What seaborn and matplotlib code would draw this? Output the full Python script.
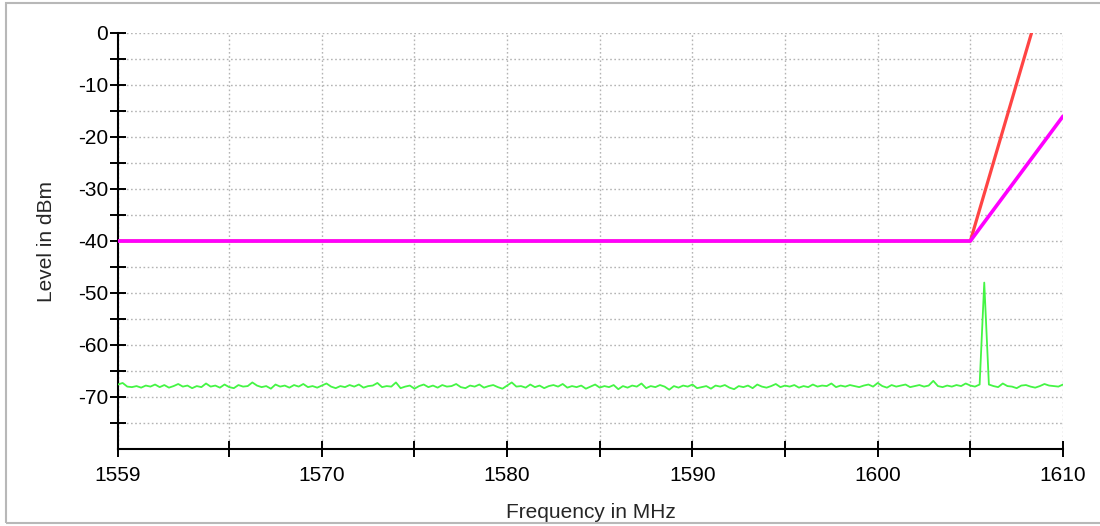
import numpy as np
import pandas as pd
import matplotlib
matplotlib.use("Agg")
import matplotlib.pyplot as plt
import seaborn as sns
from matplotlib.patches import Rectangle

# ---- data ----
limit_freq = [1559, 1605, 1610]
limit_level = [-40, -40, -16]
steep_freq = [1559, 1605, 1608.3]
steep_level = [-40, -40, 0]

noise_start = 1559.0
noise_step = 0.25
noise_level = [
    -67.6, -67.3, -68.0, -68.1, -67.9, -68.2, -67.8, -68.0, -67.6, -68.1,
    -67.7, -68.2, -67.9, -67.5, -68.0, -67.8, -68.3, -67.9, -68.1, -67.4,
    -68.0, -67.8, -68.2, -67.6, -68.1, -68.3, -67.7, -68.0, -67.9, -67.2,
    -67.8, -68.1, -67.9, -68.4, -67.6, -68.0, -67.8, -68.2, -67.7, -68.0,
    -67.5, -68.1, -67.9, -68.2, -67.8, -67.4, -68.0, -68.3, -67.9, -68.1,
    -67.7, -68.0, -67.6, -68.2, -67.9, -67.8, -67.3, -68.1, -67.9, -68.0,
    -67.2, -68.3, -68.0, -67.8, -68.4, -67.9, -67.6, -68.1, -67.8, -68.2,
    -67.7, -68.0, -67.9, -67.5, -68.1, -68.3, -67.8, -68.0, -67.6, -68.2,
    -67.9, -67.7, -68.1, -68.4, -67.8, -67.2, -68.0, -67.9, -68.2, -67.6,
    -68.1, -67.8, -68.3, -67.9, -67.7, -68.0, -67.5, -68.2, -67.9, -68.1,
    -67.8, -68.4, -68.0, -67.6, -68.2, -67.9, -68.1, -67.7, -68.5, -67.9,
    -68.2, -67.8, -68.0, -67.4, -68.3, -67.9, -68.1, -67.7, -68.0, -68.6,
    -67.9, -68.2, -67.8, -68.0, -67.6, -68.3, -68.1, -67.9, -68.4, -67.8,
    -68.0, -67.7, -68.2, -68.5, -67.9, -68.1, -67.8, -68.3, -67.6, -68.0,
    -68.2, -67.9, -67.5, -68.1, -67.8, -68.0, -67.7, -68.2, -67.9, -68.1,
    -67.6, -68.0, -67.8, -67.9, -67.4, -68.1, -67.8, -68.0, -67.7, -67.9,
    -68.1, -67.8, -67.6, -68.0, -67.3, -67.9, -68.2, -67.7, -68.0, -67.8,
    -67.6, -68.1, -67.9, -67.7, -68.0, -67.8, -66.9, -67.9, -68.1, -67.8,
    -68.0, -67.7, -67.9, -67.4, -67.8, -68.0, -67.6, -48.0, -67.6, -67.9,
    -68.1, -67.4, -67.9, -68.0, -68.3, -67.8, -67.7, -68.0, -68.2, -67.9,
    -67.5, -67.8, -67.9, -68.0, -67.6,
]
noise_freq = [noise_start + i * noise_step for i in range(len(noise_level))]

x_ticks = [1559, 1565, 1570, 1575, 1580, 1585, 1590, 1595, 1600, 1605, 1610]
x_labels = ["1559", "", "1570", "", "1580", "", "1590", "", "1600", "", "1610"]
y_ticks = [0, -5, -10, -15, -20, -25, -30, -35, -40, -45, -50, -55, -60, -65, -70, -75]
y_labels = ["0", "", "-10", "", "-20", "", "-30", "", "-40", "", "-50", "", "-60", "", "-70", ""]

# ---- style ----
sns.set_style("white")
plt.rcParams["font.family"] = ["Liberation Sans", "DejaVu Sans"]

fig = plt.figure(figsize=(11, 5.26), dpi=100)
ax = fig.add_axes([118 / 1100, 1 - 449 / 526, (1063 - 118) / 1100, (449 - 33) / 526])

noise_df = pd.DataFrame({"f": noise_freq, "l": noise_level})
steep_df = pd.DataFrame({"f": steep_freq, "l": steep_level})
limit_df = pd.DataFrame({"f": limit_freq, "l": limit_level})

sns.lineplot(data=noise_df, x="f", y="l", ax=ax, color="#44f544", linewidth=1.3, zorder=3)
sns.lineplot(data=steep_df, x="f", y="l", ax=ax, color="#ff4444", linewidth=2.3, zorder=4)
sns.lineplot(data=limit_df, x="f", y="l", ax=ax, color="#ff00ff", linewidth=2.6, zorder=5)

ax.set_xlim(1559, 1610)
ax.set_ylim(-80, 0)
ax.set_xticks(x_ticks)
ax.set_xticklabels(x_labels)
ax.set_yticks(y_ticks)
ax.set_yticklabels(y_labels)

ax.grid(True, color="#b4b4b4", linestyle=(0, (1.2, 1.8)), linewidth=1.0)
for s in ["top", "right"]:
    ax.spines[s].set_visible(False)
for s in ["left", "bottom"]:
    ax.spines[s].set_color("black")
    ax.spines[s].set_linewidth(1.5)
ax.tick_params(axis="both", which="major", bottom=True, left=True,
               direction="inout", length=12, width=1.4, color="black",
               labelsize=15, labelcolor="black")
ax.tick_params(axis="y", pad=1)
ax.tick_params(axis="x", pad=6)

ax.set_xlabel("Frequency in MHz", fontsize=15, labelpad=13)
ax.set_ylabel("Level in dBm", fontsize=15, labelpad=16)

# figure frame
fig.patches.append(Rectangle((6 / 1100, 1 - 523 / 526), 1.2, 520 / 526,
                             transform=fig.transFigure, fill=False,
                             edgecolor="#b8b8b8", linewidth=1.5))

fig.savefig("out.png", dpi=100)
